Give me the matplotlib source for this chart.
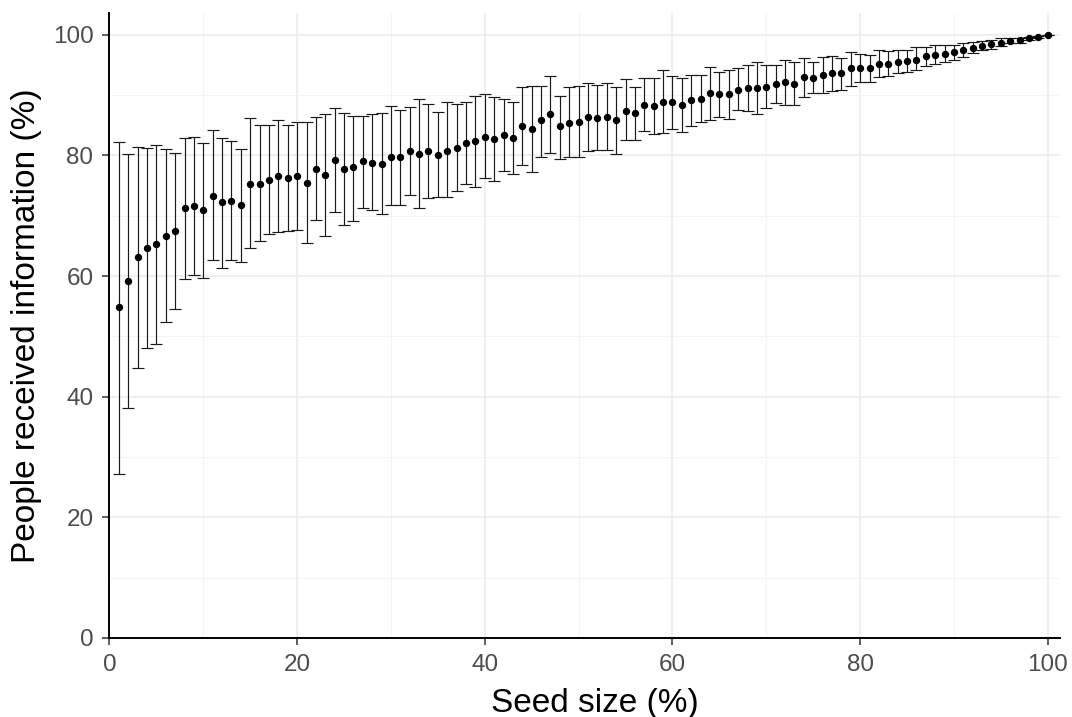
import numpy as np
import matplotlib
matplotlib.use("Agg")
import matplotlib.pyplot as plt

# -----------------------------
# Data
# -----------------------------
seed_size = list(range(1, 101))

mean_pct = [
    54.8, 59.1, 63.2, 64.7, 65.3, 66.7, 67.5, 71.2, 71.6, 71.0,
    73.2, 72.2, 72.5, 71.8, 75.3, 75.3, 75.9, 76.5, 76.3, 76.5,
    75.5, 77.8, 76.7, 79.2, 77.8, 78.0, 79.1, 78.8, 78.6, 79.8,
    79.8, 80.8, 80.2, 80.7, 80.1, 80.8, 81.3, 82.1, 82.3, 83.1,
    82.7, 83.3, 82.9, 84.8, 84.3, 85.8, 86.8, 84.8, 85.4, 85.6,
    86.4, 86.2, 86.4, 85.8, 87.4, 87.0, 88.4, 88.2, 88.8, 88.8,
    88.4, 89.1, 89.4, 90.3, 90.1, 90.1, 90.9, 91.1, 91.1, 91.3,
    91.9, 92.2, 91.9, 93.0, 92.8, 93.4, 93.6, 93.6, 94.4, 94.4,
    94.4, 95.2, 95.2, 95.5, 95.7, 95.8, 96.4, 96.7, 96.8, 97.1,
    97.5, 97.8, 98.1, 98.5, 98.7, 98.9, 99.1, 99.5, 99.7, 100.0,
]

upper_pct = [
    82.2, 80.3, 81.4, 81.3, 81.7, 81.1, 80.4, 82.8, 83.1, 82.1,
    84.2, 82.9, 82.3, 81.1, 86.2, 85.0, 85.0, 85.8, 85.0, 85.6,
    85.6, 86.4, 86.8, 87.8, 87.0, 86.6, 86.6, 86.8, 87.0, 88.2,
    87.6, 88.0, 89.3, 88.5, 87.2, 88.8, 88.5, 88.9, 89.9, 90.1,
    89.7, 89.4, 88.9, 91.3, 91.5, 91.5, 93.1, 89.9, 91.3, 91.5,
    92.0, 91.7, 92.0, 91.3, 92.6, 91.3, 92.9, 92.9, 94.2, 93.2,
    92.8, 93.4, 93.4, 94.6, 93.8, 94.2, 94.4, 95.0, 95.4, 95.0,
    95.0, 95.8, 95.4, 96.2, 95.4, 96.3, 96.4, 96.2, 97.1, 96.8,
    96.7, 97.5, 97.3, 97.5, 97.5, 98.0, 97.9, 98.3, 98.3, 98.3,
    98.6, 98.8, 99.0, 99.2, 99.4, 99.4, 99.5, 99.7, 99.8, 100.0,
]

lower_pct = [
    27.1, 38.2, 44.7, 48.0, 48.8, 52.3, 54.6, 59.5, 60.2, 59.7,
    62.6, 61.3, 62.6, 62.4, 64.7, 65.8, 66.9, 67.3, 67.5, 67.7,
    65.4, 69.3, 66.7, 70.6, 68.4, 69.2, 71.2, 71.0, 70.2, 71.7,
    71.8, 73.5, 71.3, 72.9, 73.1, 73.1, 74.1, 75.3, 74.7, 76.2,
    75.7, 77.4, 76.9, 78.4, 77.2, 79.8, 80.4, 79.4, 79.7, 79.8,
    80.7, 80.9, 80.9, 80.3, 82.6, 82.6, 84.0, 83.6, 83.7, 84.4,
    83.9, 84.8, 85.6, 85.8, 86.4, 86.0, 87.5, 87.4, 86.8, 87.8,
    88.6, 88.4, 88.4, 89.7, 90.3, 90.3, 90.6, 90.9, 91.5, 92.2,
    92.2, 93.0, 93.2, 93.6, 93.8, 94.2, 94.8, 95.2, 95.4, 95.8,
    96.3, 97.0, 97.4, 97.7, 98.1, 98.6, 98.7, 99.2, 99.5, 100.0,
]

x_ticks = [0, 20, 40, 60, 80, 100]
y_ticks = [0, 20, 40, 60, 80, 100]

# -----------------------------
# Plot
# -----------------------------
plt.rcParams['font.family'] = ['Liberation Sans', 'DejaVu Sans']

mean = np.array(mean_pct)
yerr = [mean - np.array(lower_pct), np.array(upper_pct) - mean]

fig = plt.figure(figsize=(10.72, 7.17), dpi=100)
ax = fig.add_axes([0.1021, 0.1102, 0.8867, 0.8717])

ax.errorbar(seed_size, mean, yerr=yerr, fmt='o', color='black',
            ecolor='#1a1a1a', elinewidth=0.85, capsize=4.3, capthick=0.85,
            markersize=4.3, zorder=3)

ax.set_xlim(0, 101.3)
ax.set_ylim(0, 103.6)
ax.set_xticks(x_ticks)
ax.set_yticks(y_ticks)
ax.set_xticks([10, 30, 50, 70, 90], minor=True)
ax.set_yticks([10, 30, 50, 70, 90], minor=True)

ax.grid(True, which='major', color='#EBEBEB', linewidth=1.1, zorder=0)
ax.grid(True, which='minor', color='#F2F2F2', linewidth=0.6, zorder=0)
ax.set_axisbelow(True)

for side in ['top', 'right']:
    ax.spines[side].set_visible(False)
for side in ['left', 'bottom']:
    ax.spines[side].set_color('black')
    ax.spines[side].set_linewidth(1.4)

ax.tick_params(axis='both', which='major', length=5, width=1.1,
               color='#333333', labelcolor='#4D4D4D', labelsize=17.5, pad=6.5)
ax.tick_params(axis='both', which='minor', length=0)

ax.set_xlabel("Seed size (%)", fontsize=24, color='black')
ax.set_ylabel("People received information (%)", fontsize=24, color='black')
ax.xaxis.set_label_coords(0.511, -0.080)
ax.yaxis.set_label_coords(-0.071, 0.5)

fig.savefig("out.png", dpi=100)
